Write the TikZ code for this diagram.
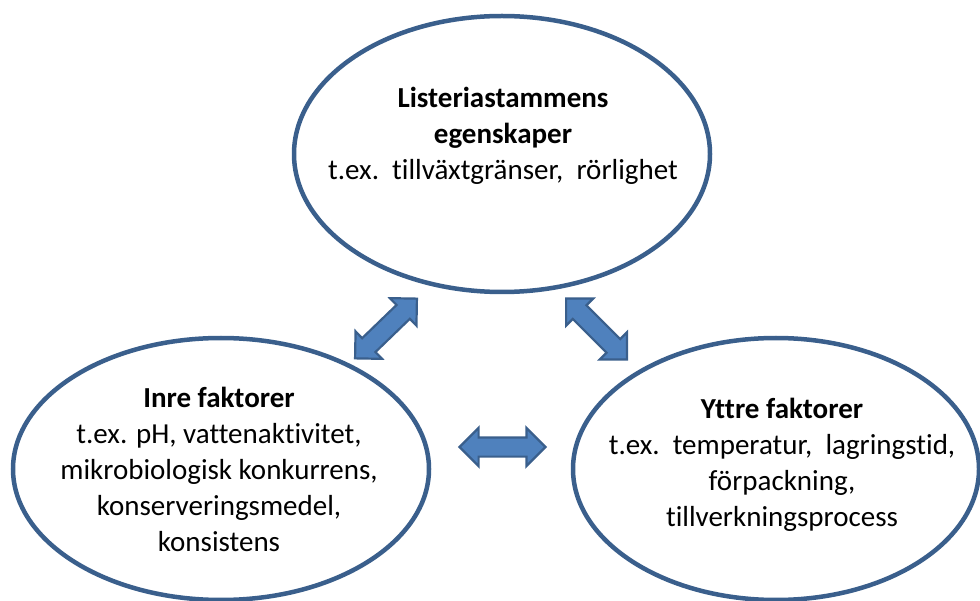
\documentclass[tikz,border=0pt]{standalone}
\usepackage{fontspec}
\setmainfont{Carlito}[Ligatures=NoCommon]
\usetikzlibrary{shapes.geometric, shapes.arrows, calc}
\definecolor{RimBlue}{HTML}{3A5F8C}
\definecolor{ArrowBlue}{HTML}{4F81BD}

\begin{document}
\begin{tikzpicture}[
    x=1pt, y=-1pt,
    font=\fontsize{29}{36}\selectfont,
    factor/.style={ellipse, draw=RimBlue, fill=white, line width=4.5pt, inner sep=0pt},
    txt/.style={align=center, inner sep=0pt},
    link/.style={double arrow, draw=RimBlue, fill=ArrowBlue, line width=2.2pt, inner sep=0pt, inner ysep=8.5pt, minimum height=86pt, double arrow head extend=9.5pt}
]
    \useasboundingbox (0,0) rectangle (980,601);

    % Factors
    \node[factor, minimum width=416pt, minimum height=276pt] (strain) at (502,154) {};
    \node[factor, minimum width=416pt, minimum height=262pt] (inner) at (221,469) {};
    \node[factor, minimum width=406pt, minimum height=262pt] (outer) at (776,469) {};

    % Texts
    \node[txt] (straintxt) at ($(strain)+(1,-18)$) {\textbf{Listeriastammens}\\ \textbf{egenskaper}\\ t.ex.\ \ tillväxtgränser,\ \ rörlighet};
    \node[txt] (innertxt) at ($(inner)+(-2,0)$) {\textbf{Inre faktorer}\\ t.ex. pH, vattenaktivitet,\\ mikrobiologisk konkurrens,\\ konserveringsmedel,\\ konsistens};
    \node[txt] (outertxt) at ($(outer)+(6,-4)$) {\textbf{Yttre faktorer}\\ t.ex.\ \ temperatur,\ \ lagringstid,\\ förpackning,\\ tillverkningsprocess};

    % Interactions
    \node[link, rotate=44] (strain-inner) at (386,328.5) {};
    \node[link, rotate=-45] (strain-outer) at (596.5,329) {};
    \node[link] (inner-outer) at (502.5,447) {};
\end{tikzpicture}
\end{document}
